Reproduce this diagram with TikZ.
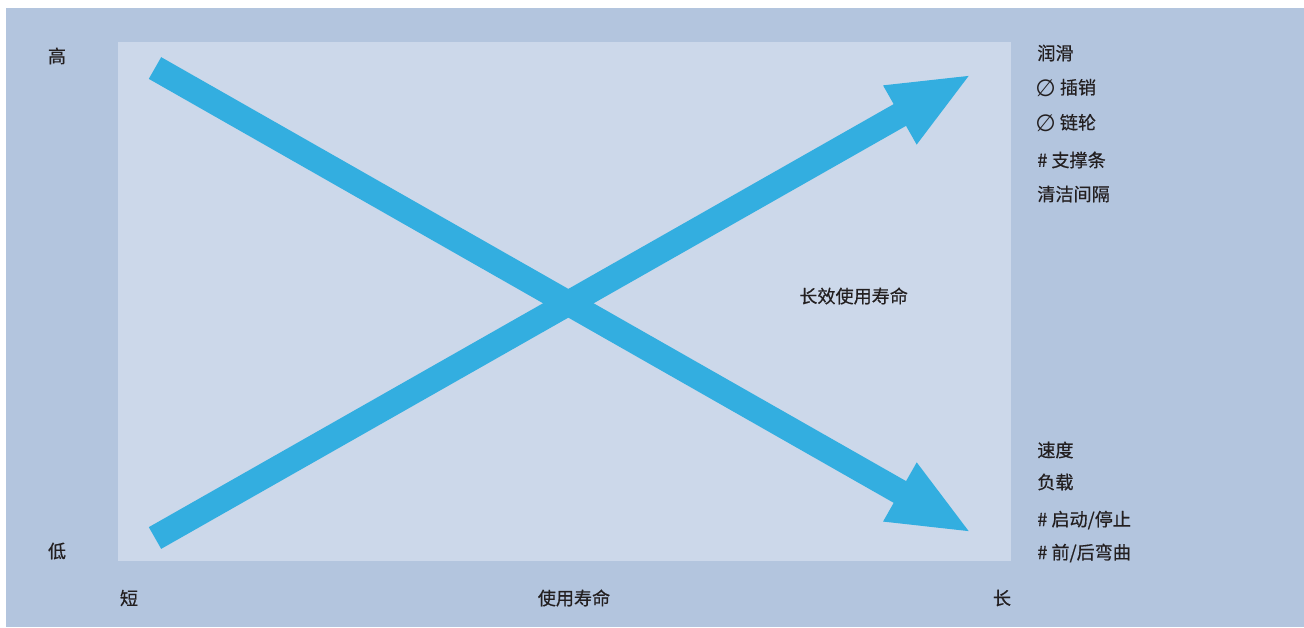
\documentclass[tikz,border=0pt]{standalone}
\usepackage{fontspec}
\setmainfont{Noto Sans CJK SC}[FakeBold=0.5]
\newfontfamily\symfont{DejaVu Sans}[Scale=1.3]
\newcommand{\diam}{\raisebox{-1.5pt}{\symfont ∅}}
\usetikzlibrary{arrows.meta}
\definecolor{outerbg}{HTML}{B3C5DE}
\definecolor{innerbg}{HTML}{CCD8EA}
\definecolor{arrowblue}{HTML}{33AEE0}
\definecolor{labelgray}{HTML}{231F20}
\tikzset{
	axislabel/.style={text=labelgray, inner sep=0pt, font=\fontsize{10.3pt}{12pt}\selectfont},
	listlabel/.style={axislabel, anchor=west},
	bigarrow/.style={arrowblue, line width=0.5cm, -{Triangle[length=1.66cm, width=1.22cm]}},
}
\begin{document}
\begin{tikzpicture}[x=0.02cm, y=-0.02cm]
	% Background and panel:
	\useasboundingbox (0, 0) rectangle (1304, 627);
	\fill[white] (0, 0) rectangle (1304, 627);
	\fill[outerbg] (6, 8) rectangle (1304, 627);
	\fill[innerbg] (118, 42) rectangle (1011, 561);
	% Arrows:
	\coordinate (hightail) at (155, 68);
	\coordinate (lowtip) at (972, 533);
	\coordinate (lowtail) at (155, 538);
	\coordinate (hightip) at (972, 74);
	\draw[bigarrow] (hightail) -- (lowtip);
	\draw[bigarrow] (lowtail) -- (hightip);
	% Axis labels:
	\node[axislabel] (high) at (57, 56) {高};
	\node[axislabel] (low) at (57, 551) {低};
	\node[axislabel] (short) at (129, 598) {短};
	\node[axislabel] (life) at (574, 598) {使用寿命};
	\node[axislabel] (long) at (1002, 598) {长};
	\node[listlabel] (longlife) at (799, 296) {长效使用寿命};
	% Factors raising wear:
	\node[listlabel] (lube) at (1037, 53) {润滑};
	\node[listlabel] (pin) at (1035, 88) {\diam{} 插销};
	\node[listlabel] (sprocket) at (1035, 123) {\diam{} 链轮};
	\node[listlabel] (support) at (1037, 160) {\# 支撑条};
	\node[listlabel] (clean) at (1037, 194) {清洁间隔};
	% Factors lowering life:
	\node[listlabel] (speed) at (1037, 450) {速度};
	\node[listlabel] (load) at (1037, 482) {负载};
	\node[listlabel] (startstop) at (1037, 520) {\# 启动/停止};
	\node[listlabel] (bend) at (1037, 553) {\# 前/后弯曲};
\end{tikzpicture}
\end{document}
